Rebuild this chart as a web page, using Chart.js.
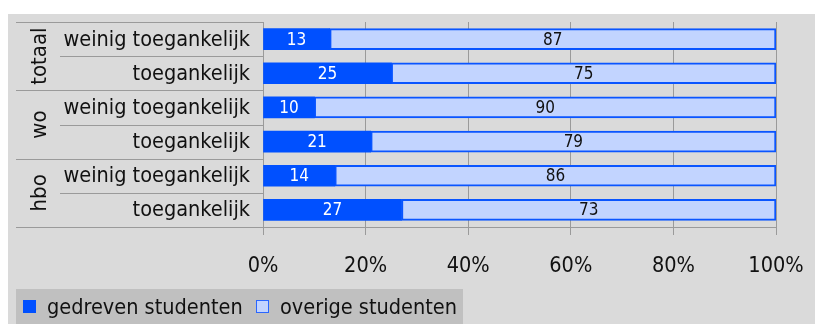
<!DOCTYPE html>
<html>
<head>
<meta charset="utf-8">
<script src="https://cdn.jsdelivr.net/npm/chart.js@4"></script>
<style>
  html, body { margin: 0; padding: 0; background: #ffffff; }
  canvas { display: block; }
</style>
</head>
<body>
<canvas id="c" width="816" height="324"></canvas>
<script>
const groups = ["totaal", "wo", "hbo"];
const subLabels = ["weinig toegankelijk", "toegankelijk"];
const categories = [
  "totaal - weinig toegankelijk", "totaal - toegankelijk",
  "wo - weinig toegankelijk", "wo - toegankelijk",
  "hbo - weinig toegankelijk", "hbo - toegankelijk"
];
const gedreven = [13, 25, 10, 21, 14, 27];
const overige = [87, 75, 90, 79, 86, 73];
const seriesNames = ["gedreven studenten", "overige studenten"];
const tickLabels = ["0%", "20%", "40%", "60%", "80%", "100%"];

const FONT = '"DejaVu Sans Condensed", "Liberation Sans", sans-serif';
const DARK = "#0050ff";
const LIGHT = "#c2d4ff";
const LINE = "#9a9a9a";

// panel background
const backdrop = {
  id: "backdrop",
  beforeDraw(chart) {
    const ctx = chart.ctx;
    ctx.save();
    ctx.fillStyle = "#ffffff";
    ctx.fillRect(0, 0, chart.width, chart.height);
    ctx.fillStyle = "#dadada";
    ctx.fillRect(8, 14, 807, chart.height - 14);
    ctx.restore();
  }
};

// percentage labels under the x-axis ticks
const percentTicks = {
  id: "percentTicks",
  afterDraw(chart) {
    const ctx = chart.ctx;
    const x = chart.scales.x;
    ctx.save();
    ctx.fillStyle = "#111";
    ctx.font = "21.5px " + FONT;
    ctx.textAlign = "center";
    ctx.textBaseline = "middle";
    x.ticks.forEach((t, i) => {
      ctx.fillText(tickLabels[i], x.getPixelForValue(t.value), 266);
    });
    ctx.restore();
  }
};

// two-level category labels left of the plot
const groupAxis = {
  id: "groupAxis",
  afterDraw(chart) {
    const ctx = chart.ctx;
    const y = chart.scales.y;
    const left = chart.chartArea.left;
    const n = categories.length;
    const step = (y.getPixelForValue(n - 1) - y.getPixelForValue(0)) / (n - 1);
    const edge = i => y.getPixelForValue(i) - step / 2;
    ctx.save();
    ctx.strokeStyle = LINE;
    ctx.lineWidth = 1;
    for (let i = 0; i <= n; i++) {
      const py = Math.round(edge(i)) + 0.5;
      const x0 = (i % subLabels.length === 0) ? 16 : 60;
      ctx.beginPath();
      ctx.moveTo(x0, py);
      ctx.lineTo(left, py);
      ctx.stroke();
    }
    ctx.fillStyle = "#111";
    ctx.font = "21.5px " + FONT;
    ctx.textAlign = "right";
    ctx.textBaseline = "middle";
    categories.forEach((c, i) => {
      ctx.fillText(subLabels[i % subLabels.length], left - 13, y.getPixelForValue(i) + 1);
    });
    ctx.font = "22px " + FONT;
    ctx.textAlign = "center";
    groups.forEach((g, gi) => {
      const cy = (edge(gi * 2) + edge(gi * 2 + 2)) / 2;
      ctx.save();
      ctx.translate(40, cy);
      ctx.rotate(-Math.PI / 2);
      ctx.fillText(g, 0, 0);
      ctx.restore();
    });
    ctx.restore();
  }
};

// value labels centered in each segment
const valueLabels = {
  id: "valueLabels",
  afterDatasetsDraw(chart) {
    const ctx = chart.ctx;
    ctx.save();
    ctx.font = "17px " + FONT;
    ctx.textAlign = "center";
    ctx.textBaseline = "middle";
    chart.data.datasets.forEach((ds, di) => {
      const meta = chart.getDatasetMeta(di);
      meta.data.forEach((bar, i) => {
        const p = bar.getProps(["x", "y", "base"], true);
        ctx.fillStyle = di === 0 ? "#ffffff" : "#111111";
        ctx.fillText(String(ds.data[i]), (p.x + p.base) / 2, p.y + 1);
      });
    });
    ctx.restore();
  }
};

// legend strip at the bottom
const legendBox = {
  id: "legendBox",
  afterDraw(chart) {
    const ctx = chart.ctx;
    ctx.save();
    ctx.fillStyle = "#c0c0c0";
    ctx.fillRect(16, 289, 447, 35);
    ctx.font = "21.5px " + FONT;
    ctx.textBaseline = "middle";
    ctx.textAlign = "left";
    const items = [
      { x: 23, fill: DARK, stroke: DARK, text: seriesNames[0] },
      { x: 256, fill: LIGHT, stroke: "#2a66ff", text: seriesNames[1] }
    ];
    items.forEach(it => {
      ctx.fillStyle = it.fill;
      ctx.fillRect(it.x, 300, 13, 13);
      ctx.strokeStyle = it.stroke;
      ctx.lineWidth = 1;
      ctx.strokeRect(it.x + 0.5, 300.5, 12, 12);
      ctx.fillStyle = "#111";
      ctx.fillText(it.text, it.x + 24, 308);
    });
    ctx.restore();
  }
};

new Chart(document.getElementById("c"), {
  type: "bar",
  data: {
    labels: categories,
    datasets: [
      { label: seriesNames[0], data: gedreven, backgroundColor: DARK, borderColor: DARK, borderWidth: 0, barThickness: 21 },
      { label: seriesNames[1], data: overige, backgroundColor: LIGHT, borderColor: "#0a55ff", borderWidth: 2, borderSkipped: false, barThickness: 21 }
    ]
  },
  options: {
    indexAxis: "y",
    responsive: false,
    animation: false,
    devicePixelRatio: 1,
    layout: { autoPadding: false, padding: { top: 22, right: 40, left: 0, bottom: 0 } },
    plugins: { legend: { display: false }, tooltip: { enabled: false } },
    scales: {
      x: {
        stacked: true,
        min: 0,
        max: 100,
        afterFit(s) { s.height = 97; },
        ticks: { stepSize: 20, display: false },
        grid: { color: LINE, lineWidth: 1, drawTicks: true, tickLength: 8, tickColor: LINE },
        border: { display: true, color: LINE, width: 1 }
      },
      y: {
        stacked: true,
        afterFit(s) { s.width = 263; },
        ticks: { display: false },
        grid: { display: false, drawTicks: false },
        border: { display: true, color: LINE, width: 1 }
      }
    }
  },
  plugins: [backdrop, groupAxis, valueLabels, percentTicks, legendBox]
});
</script>
</body>
</html>
